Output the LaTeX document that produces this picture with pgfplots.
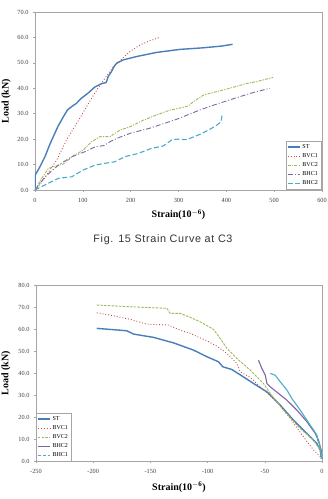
\documentclass[border=0pt]{standalone}
\usepackage{pgfplots}
\pgfplotsset{compat=1.18}
\usepackage{fontspec}
\setmainfont{Liberation Serif}
\newfontfamily\capfont[LetterSpace=6]{Liberation Sans}

\definecolor{cST}{HTML}{4A7EBB}
\definecolor{cBVCa}{HTML}{C0504D}
\definecolor{cBVCb}{HTML}{9BBB59}
\definecolor{cBHCa}{HTML}{8064A2}
\definecolor{cBHCb}{HTML}{4BACC6}

\pgfplotsset{
  strainaxis/.style={
    scale only axis,
    anchor=south west,
    axis line style={gray!70, line width=0.6pt},
    tick style={gray!70, line width=0.5pt},
    major tick length=2pt,
    tick align=outside,
    xtick pos=bottom, ytick pos=left,
    /pgf/number format/assume math mode=true,
    tick label style={font=\fontsize{6.3}{7}\selectfont, text=black!75},
    yticklabel style={/pgf/number format/fixed, /pgf/number format/fixed zerofill,
      /pgf/number format/precision=1, xshift=-1pt},
    xticklabel style={/pgf/number format/fixed, yshift=-3pt},
    label style={font=\fontsize{10}{12}\selectfont\bfseries},
    legend cell align=left,
    legend style={font=\fontsize{6}{7}\selectfont, draw=gray!70, inner sep=1pt,
      row sep=-0.5pt, fill=white},
    legend image code/.code={\draw[#1] (0pt,0pt) -- (12pt,0pt);},
  }
}

\begin{document}
\begin{tikzpicture}
\path[use as bounding box] (0pt,0pt) rectangle (328pt,499pt);

% Strain curve at C3, tension side
\begin{axis}[strainaxis,
  at={(35pt,309pt)}, width=287pt, height=178pt,
  xmin=0, xmax=600, ymin=0, ymax=70,
  xtick={0,100,...,600}, ytick={0,10,...,70},
  xlabel={Strain(10$^{\mathbf{-6}}$)}, ylabel={Load (kN)},
  xlabel style={at={(axis description cs:0.5,-0.14)}, anchor=center},
  ylabel style={at={(axis description cs:-0.1,0.5)}, anchor=center},
  legend style={at={(1,0)}, anchor=south east, xshift=-1pt, yshift=1pt},
]
\addplot[cST, line width=1.4pt] coordinates {
 (0,0) (0.5,5.9) (10.5,9.2) (20.9,13.1) (30,17.5) (38.3,21) (48,25) (59.2,28.8)
 (68,31.5) (76.6,32.8) (86.7,34.1) (97.1,36.1) (111,38.1) (125,40.5) (139,41.8)
 (149,42.3) (153,44.6) (160,46.6) (166,48.8) (171,49.9) (185,51.2) (212.6,52.5)
 (254,54.1) (303,55.3) (350,55.9) (390,56.6) (413,57.3)};
\addlegendentry{ST}
\addplot[cBVCa, line width=0.9pt, dotted] coordinates {
 (0,0) (17.4,3.9) (45.3,11.8) (66,19.7) (87,26.2) (108,32.8) (129,39.3) (146,43.9)
 (164,48.5) (181,51.4) (198,54.4) (219,57) (240,58.7) (262,60.1)};
\addlegendentry{BVC1}
\addplot[cBVCb, line width=0.9pt, dash pattern=on 3pt off 1.2pt on 1.2pt off 1.2pt] coordinates {
 (0,0) (14,4.6) (28,8.5) (45,9.5) (59,10.2) (80,13.4) (101,15.7) (118,19) (136,21)
 (157,21) (178,23.6) (199,24.9) (227,27.5) (254,29.5) (282,31.4) (300,32.1)
 (320,33) (331,34.7) (352,37.3) (380,38.7) (407,40) (442,41.9) (463,42.6) (498,44.3)};
\addlegendentry{BVC2}
\addplot[cBHCa, line width=0.9pt, dash pattern=on 5pt off 2pt on 1pt off 2pt] coordinates {
 (0,0) (21,5.2) (49,9.8) (77,13.1) (105,15.1) (126,17) (145,17.5) (157,19) (171,20.3)
 (199,22.3) (240,24.3) (296,27.8) (345,31.5) (380,33.8) (450,38) (491,40)};
\addlegendentry{BHC1}
\addplot[cBHCb, line width=1.1pt, dash pattern=on 5pt off 2.5pt] coordinates {
 (0,0) (21,2) (49,4.6) (77,5.2) (101,7.9) (126,9.8) (146,10.5) (167,11.1) (188,13.1)
 (216,14.4) (244,16.4) (268,17.3) (286,19.7) (296,20) (317,19.8) (345,21.9)
 (366,23.9) (380,25.5) (389,26.9) (391,29.4)};
\addlegendentry{BHC2}
\end{axis}

\node[font=\capfont\fontsize{10.8}{12}\selectfont, text=black!80] at (163pt,259pt)
  {Fig. 15 Strain Curve at C3};

% Strain curve at C3, compression side
\begin{axis}[strainaxis,
  at={(36pt,38pt)}, width=286pt, height=176pt,
  xmin=-250, xmax=0, ymin=0, ymax=80,
  xtick={-250,-200,...,0}, ytick={0,10,...,80},
  xlabel={Strain(10$^{\mathbf{-6}}$)}, ylabel={Load (kN)},
  xlabel style={at={(axis description cs:0.5,-0.148)}, anchor=center},
  ylabel style={at={(axis description cs:-0.105,0.5)}, anchor=center},
  legend style={at={(0,0)}, anchor=south west, xshift=0pt, yshift=0pt},
]
\addplot[cST, line width=1.4pt] coordinates {
 (-196.9,60.3) (-170.6,59.2) (-164.8,57.7) (-147.3,56.2) (-129.8,53.7) (-112.3,50.4)
 (-100.6,47.4) (-90.5,45.1) (-88,43.6) (-86.6,42.8) (-78.8,41.6) (-68.6,38.2)
 (-59.8,35.2) (-48.1,31.4) (-36.5,25.4) (-24.8,18.5) (-13.1,12.5) (-4.4,7.9)
 (-1.5,4.9) (-0.5,1)};
\addlegendentry{ST}
\addplot[cBVCa, line width=0.9pt, dotted] coordinates {
 (-196.9,67.4) (-185.2,66.3) (-167.7,64.4) (-153.1,62.2) (-134.2,61.8) (-124,59.5)
 (-115.2,58) (-100.6,54.6) (-91.9,52.2) (-83.1,48.9) (-74.4,44.3) (-71.5,40.5)
 (-62.7,38) (-54,33.7) (-39.4,26.9) (-27.7,19.3) (-16.1,10.9) (-7.3,4.9) (-1,1.8)};
\addlegendentry{BVC1}
\addplot[cBVCb, line width=0.9pt, dash pattern=on 2.5pt off 1.2pt] coordinates {
 (-196.9,70.9) (-167.7,70.1) (-135.6,69.4) (-132.7,67.1) (-124,67.1) (-115.2,65.3)
 (-106.5,63.3) (-94.8,59.8) (-89,55.7) (-83.1,51.2) (-74.4,46.6) (-62.7,41.3)
 (-51.1,35.2) (-45.2,30.7) (-33.6,23.1) (-19,14.7) (-7.3,9.4) (-1.5,4.9) (-0.8,2.5)};
\addlegendentry{BVC2}
\addplot[cBHCa, line width=1.1pt] coordinates {
 (-55.5,45.8) (-52.5,42) (-49.6,39) (-48.1,35.2) (-45.2,33.7) (-38,30.7) (-30.6,27.6)
 (-21.9,23.1) (-13.1,17.8) (-5.9,12.5) (-3,9.4) (-1.5,6.4) (-0.6,4.9) (-0.3,1)};
\addlegendentry{BHC2}
\addplot[cBHCb, line width=1.1pt, forget plot] coordinates {
 (-45.2,39.8) (-40.9,39) (-36.5,36) (-30.6,32.2) (-26.3,28.4) (-19,23.1) (-13.1,18.5)
 (-7.3,14) (-4.4,11.7) (-3.8,9.4) (-2.3,7.9) (-0.6,3.4) (-0.2,1)};
\addlegendimage{cBHCb, line width=1.1pt, dash pattern=on 3pt off 2pt}
\addlegendentry{BHC1}
\end{axis}
\end{tikzpicture}
\end{document}
